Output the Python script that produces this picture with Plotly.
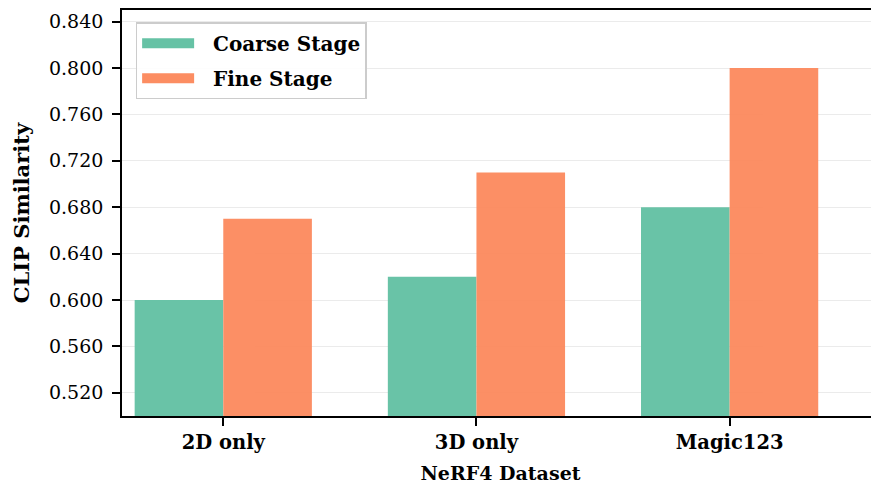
import plotly.graph_objects as go

categories = ["2D only", "3D only", "Magic123"]
coarse_stage = [0.600, 0.620, 0.680]
fine_stage = [0.670, 0.710, 0.800]
y_ticks = [0.52, 0.56, 0.60, 0.64, 0.68, 0.72, 0.76, 0.80, 0.84]
series_names = ["Coarse Stage", "Fine Stage"]
series_colors = ["#66c2a5", "#fc8d62"]

FONT = "DejaVu Serif"
NB = "\u00a0\u00a0"

fig = go.Figure()
for name, vals, col in zip(series_names, [coarse_stage, fine_stage], series_colors):
    fig.add_trace(go.Bar(
        x=categories, y=vals, name=name, showlegend=False,
        marker=dict(color=col, line=dict(width=0)), opacity=0.98,
        offsetgroup=name, legendgroup=name,
    ))
for name, col in zip(series_names, series_colors):
    fig.add_trace(go.Scatter(
        x=[None], y=[None], mode="lines", name="<b>" + NB + name + "</b>",
        line=dict(color=col, width=19), legendgroup=name, showlegend=True,
    ))

fig.update_layout(
    width=871, height=478,
    margin=dict(l=114, r=0, t=2, b=70),
    paper_bgcolor="white", plot_bgcolor="white",
    barmode="group", bargap=0.3, bargroupgap=0,
    font=dict(family=FONT, size=19, color="black"),
    showlegend=True,
    legend=dict(
        x=0.018, y=0.970, xanchor="left", yanchor="top",
        bgcolor="rgba(255,255,255,0.9)", bordercolor="#cccccc", borderwidth=1.5,
        font=dict(family=FONT, size=20, color="black"),
        itemwidth=52, tracegroupgap=6,
    ),
)
fig.update_xaxes(
    type="category", range=[-0.4, 2.59],
    showline=True, linecolor="black", linewidth=1.6, mirror=True,
    ticks="outside", ticklen=8, tickwidth=1.6, tickcolor="black",
    tickfont=dict(family=FONT, size=19.5, weight="bold"),
    showgrid=False,
    title=dict(text="<b>NeRF4 Dataset</b>", font=dict(family=FONT, size=19), standoff=13),
    automargin=False,
)
fig.update_yaxes(
    range=[0.50, 0.85],
    tickvals=y_ticks, tickformat=".3f",
    showline=True, linecolor="black", linewidth=1.6, mirror=False,
    ticks="outside", ticklen=8, tickwidth=1.6, tickcolor="black",
    tickfont=dict(family=FONT, size=19), ticklabelstandoff=5,
    showgrid=True, gridcolor="#ebebeb", gridwidth=1.2,
    zeroline=False,
    title=dict(text="<b>CLIP Similarity</b>", font=dict(family=FONT, size=21), standoff=14),
    automargin=False,
)

fig.write_html("out.html")
